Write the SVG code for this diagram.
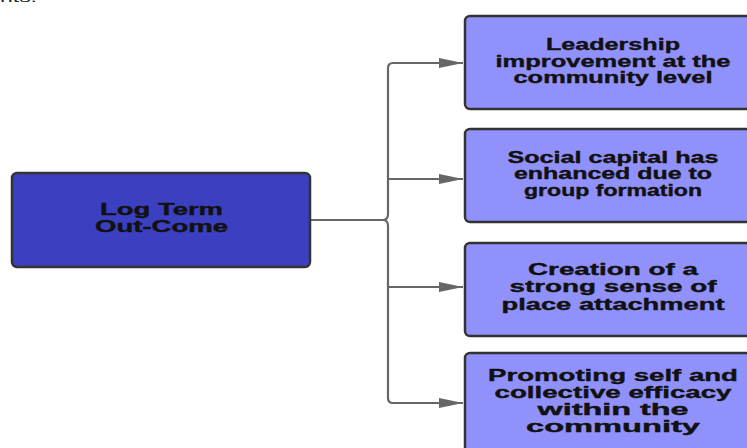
<svg xmlns="http://www.w3.org/2000/svg" width="747" height="448" viewBox="0 0 747 448">
  <style>
    .box { stroke: #333333; stroke-width: 2.5; }
    .main { fill: #3b40c0; }
    .leaf { fill: #9191fb; }
    .lbl { font-family: "Liberation Sans", Arial, sans-serif; font-weight: bold; font-size: 16.5px; fill: #111111; stroke: #111111; stroke-width: 0.4; }
    .wire { fill: none; stroke: #666666; stroke-width: 2.2; }
    .frag { font-family: "Liberation Sans", Arial, sans-serif; font-size: 12px; fill: #222222; }
  </style>
  <defs>
    <marker id="arrow" viewBox="0 0 24 10" refX="24" refY="5" markerWidth="24" markerHeight="10" markerUnits="userSpaceOnUse" orient="auto">
      <path d="M0,0 L24,5 L0,10 Z" fill="#666666"/>
    </marker>
  </defs>

  <rect width="747" height="448" fill="#ffffff"/>
  <text class="frag" x="0" y="2" textLength="37" lengthAdjust="spacingAndGlyphs">nts.</text>

  <!-- connectors: bracket from the main box to the four outcomes -->
  <g id="connectors">
    <path class="wire" d="M310,220 H383"/>
    <path class="wire" d="M383,220 Q388,220 388,214 V68 Q388,63 393,63 H463" marker-end="url(#arrow)"/>
    <path class="wire" d="M388,179 H463" marker-end="url(#arrow)"/>
    <path class="wire" d="M388,287 H463" marker-end="url(#arrow)"/>
    <path class="wire" d="M383,220 Q388,220 388,226 V398 Q388,403 393,403 H463" marker-end="url(#arrow)"/>
  </g>

  <g id="node-outcome">
    <rect class="box main" x="12" y="173" width="298" height="94" rx="5"/>
    <text class="lbl" x="161.5" y="215" text-anchor="middle" textLength="123" lengthAdjust="spacingAndGlyphs">Log Term</text>
    <text class="lbl" x="161.5" y="232" text-anchor="middle" textLength="133" lengthAdjust="spacingAndGlyphs">Out-Come</text>
  </g>

  <g id="node-leadership">
    <rect class="box leaf" x="465" y="16" width="296" height="93" rx="5"/>
    <text class="lbl" x="613" y="50" text-anchor="middle" textLength="134" lengthAdjust="spacingAndGlyphs">Leadership</text>
    <text class="lbl" x="613" y="66.5" text-anchor="middle" textLength="235" lengthAdjust="spacingAndGlyphs">improvement at the</text>
    <text class="lbl" x="613" y="83" text-anchor="middle" textLength="199" lengthAdjust="spacingAndGlyphs">community level</text>
  </g>

  <g id="node-social-capital">
    <rect class="box leaf" x="465" y="129" width="296" height="93" rx="5"/>
    <text class="lbl" x="613" y="162.5" text-anchor="middle" textLength="211" lengthAdjust="spacingAndGlyphs">Social capital has</text>
    <text class="lbl" x="613" y="179" text-anchor="middle" textLength="198" lengthAdjust="spacingAndGlyphs">enhanced due to</text>
    <text class="lbl" x="613" y="195.5" text-anchor="middle" textLength="178" lengthAdjust="spacingAndGlyphs">group formation</text>
  </g>

  <g id="node-place-attachment">
    <rect class="box leaf" x="465" y="243" width="296" height="93" rx="5"/>
    <text class="lbl" x="613" y="275" text-anchor="middle" textLength="170" lengthAdjust="spacingAndGlyphs">Creation of a</text>
    <text class="lbl" x="613" y="292" text-anchor="middle" textLength="207" lengthAdjust="spacingAndGlyphs">strong sense of</text>
    <text class="lbl" x="613" y="309.5" text-anchor="middle" textLength="223" lengthAdjust="spacingAndGlyphs">place attachment</text>
  </g>

  <g id="node-efficacy">
    <rect class="box leaf" x="465" y="353" width="296" height="110" rx="5"/>
    <text class="lbl" x="613" y="381" text-anchor="middle" textLength="250" lengthAdjust="spacingAndGlyphs">Promoting self and</text>
    <text class="lbl" x="613" y="398" text-anchor="middle" textLength="237" lengthAdjust="spacingAndGlyphs">collective efficacy</text>
    <text class="lbl" x="613" y="415" text-anchor="middle" textLength="151" lengthAdjust="spacingAndGlyphs">within the</text>
    <text class="lbl" x="613" y="432" text-anchor="middle" textLength="174" lengthAdjust="spacingAndGlyphs">community</text>
  </g>
</svg>
